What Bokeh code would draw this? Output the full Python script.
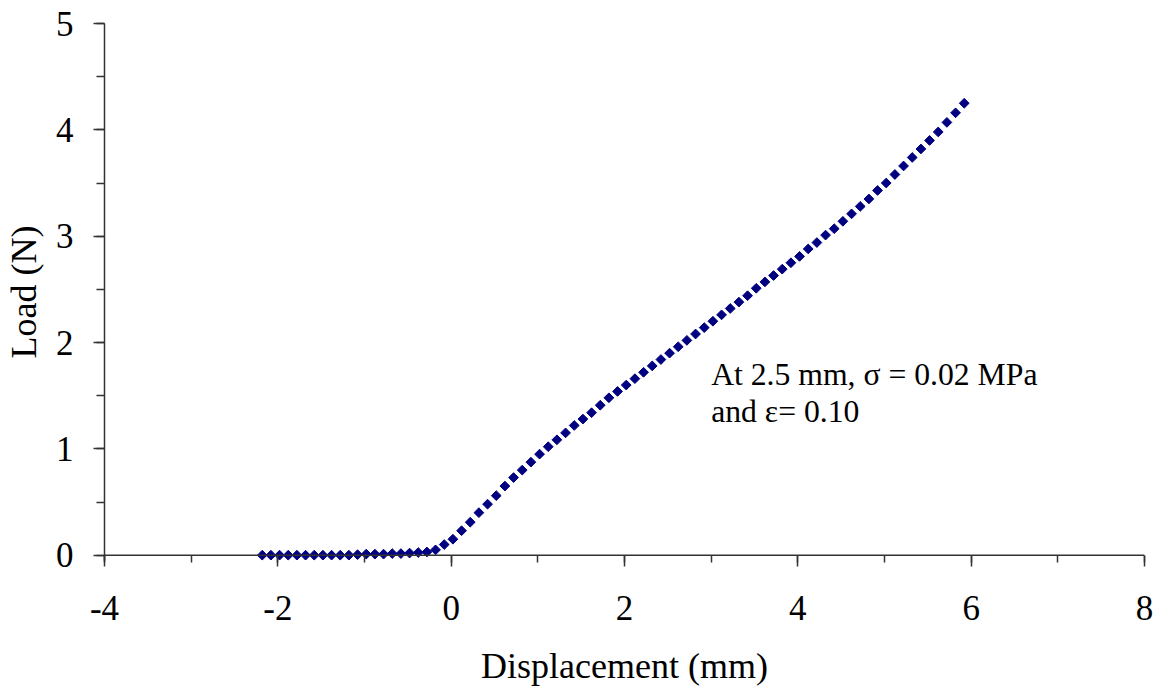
from bokeh.plotting import figure
from bokeh.models import (Range1d, SingleIntervalTicker, Label, ColumnDataSource,
                          CustomJSTickFormatter, Span)
from bokeh.embed import file_html
from bokeh.resources import INLINE

# Displacement (mm)
displacement = [
    -2.18, -2.08, -1.98, -1.88, -1.78, -1.68, -1.58, -1.48, -1.38, -1.28, -1.18,
    -1.08, -0.98, -0.88, -0.78, -0.68, -0.58, -0.48, -0.38, -0.28, -0.18, -0.08,
    0.02, 0.12, 0.22, 0.32, 0.42, 0.52, 0.62, 0.72, 0.82, 0.92, 1.02, 1.12, 1.22,
    1.32, 1.42, 1.52, 1.62, 1.72, 1.82, 1.92, 2.02,
    2.12, 2.22, 2.32, 2.42, 2.52, 2.62, 2.72, 2.82, 2.92, 3.02, 3.12, 3.22, 3.32,
    3.42, 3.52, 3.62, 3.72, 3.82, 3.92, 4.02, 4.12, 4.22, 4.32, 4.42, 4.52, 4.62,
    4.72, 4.82, 4.92, 5.02, 5.12, 5.22, 5.32, 5.42, 5.52, 5.62, 5.72, 5.82, 5.92,
]
# Load (N)
load = [
    0.0, 0.0, 0.0, 0.0, 0.0, 0.0, 0.0, 0.0, 0.0, 0.0, 0.0,
    0.005, 0.01, 0.01, 0.01, 0.015, 0.015, 0.02, 0.025, 0.03, 0.05, 0.10,
    0.15, 0.23, 0.31, 0.40, 0.48, 0.56, 0.65, 0.73, 0.80, 0.875, 0.95, 1.02, 1.085,
    1.15, 1.22, 1.28, 1.34, 1.41, 1.48, 1.54, 1.60,
    1.66, 1.72, 1.78, 1.84, 1.90, 1.96, 2.02, 2.08, 2.14, 2.20, 2.26, 2.32, 2.38,
    2.44, 2.51, 2.57, 2.63, 2.69, 2.75, 2.81, 2.88, 2.94, 3.01, 3.07, 3.14, 3.21,
    3.28, 3.35, 3.43, 3.50, 3.58, 3.66, 3.74, 3.82, 3.90, 3.98, 4.07, 4.16, 4.25,
]

x_title = "Displacement (mm)"
y_title = "Load (N)"
annotation_lines = ["At 2.5 mm, \u03c3 = 0.02 MPa", "and \u03b5= 0.10"]

FONT = "Liberation Serif"
AX = "#333333"

p = figure(width=1155, height=688, output_backend="svg", toolbar_location=None,
           x_range=Range1d(-4, 8), y_range=Range1d(-0.05, 5),
           min_border_left=104, min_border_right=11, min_border_top=23,
           min_border_bottom=128)
p.outline_line_color = None
p.xgrid.visible = False
p.ygrid.visible = False
p.background_fill_color = "white"
p.border_fill_color = "white"

src = ColumnDataSource(dict(x=displacement, y=load))
p.scatter("x", "y", source=src, marker="square", angle=0.785398, size=6.9,
          fill_color="#000080", line_color="#000080", line_width=1)

# x-axis line at Load = 0
p.add_layout(Span(location=0, dimension="width", line_color=AX, line_width=1.5))

p.xaxis.ticker = SingleIntervalTicker(interval=2, num_minor_ticks=2)
p.yaxis.ticker = SingleIntervalTicker(interval=1, num_minor_ticks=2)
fmt_code = "return tick.toString();"
p.xaxis.formatter = CustomJSTickFormatter(code=fmt_code)
p.yaxis.formatter = CustomJSTickFormatter(code=fmt_code)

for ax in (p.xaxis[0], p.yaxis[0]):
    ax.axis_line_color = AX
    ax.axis_line_width = 1.5
    ax.major_tick_line_color = AX
    ax.minor_tick_line_color = AX
    ax.major_tick_line_width = 1.5
    ax.minor_tick_line_width = 1.5
    ax.major_tick_out = 11
    ax.major_tick_in = 0
    ax.minor_tick_out = 8
    ax.minor_tick_in = 0
    ax.major_label_text_font = FONT
    ax.major_label_text_font_size = "35px"
    ax.major_label_text_color = "black"
    ax.axis_label_text_font = FONT
    ax.axis_label_text_font_size = "36px"
    ax.axis_label_text_font_style = "normal"
    ax.axis_label_text_color = "black"

xa = p.xaxis[0]
xa.axis_line_color = None
xa.major_tick_in = 5
xa.major_tick_out = 6
xa.minor_tick_in = 5
xa.minor_tick_out = 2
xa.axis_label = x_title
xa.major_label_standoff = 29
xa.axis_label_standoff = 23

p.yaxis.axis_label = y_title
p.yaxis.major_label_standoff = 20
p.yaxis.axis_label_standoff = 9

p.add_layout(Label(x=3.0, y=1.70, text=annotation_lines[0], text_font=FONT,
                   text_font_size="31.7px", text_color="black",
                   text_baseline="alphabetic"))
p.add_layout(Label(x=3.0, y=1.355, text=annotation_lines[1], text_font=FONT,
                   text_font_size="31.7px", text_color="black",
                   text_baseline="alphabetic"))

open("out.html", "w").write(file_html(p, INLINE))
